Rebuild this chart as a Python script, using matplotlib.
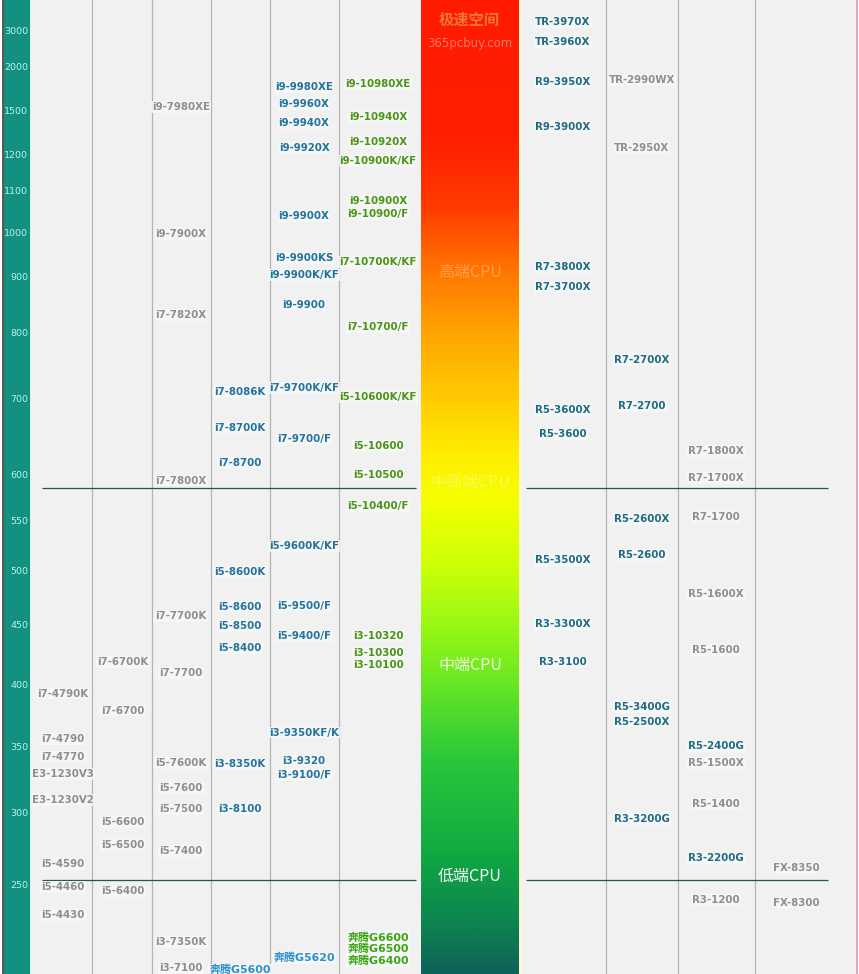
import numpy as np
import matplotlib.pyplot as plt
from matplotlib.colors import LinearSegmentedColormap
from matplotlib.patches import Rectangle

plt.rcParams['font.family'] = ['DejaVu Sans', 'Noto Sans CJK SC']

W, H = 859, 974

# score axis (left scale) and the rows where each tick sits on the sheet
tick_scores = [250, 300, 350, 400, 450, 500, 550, 600, 700, 800, 900, 1000, 1100, 1200, 1500, 2000, 3000]
tick_rows = [884, 812, 746, 685, 625, 571, 521, 474, 398, 332, 277, 232, 191, 154, 110, 67, 31]

# CPU columns: names and scores
haswell_names = ['i7-4790K', 'i7-4790', 'i7-4770', 'E3-1230V3', 'E3-1230V2', 'i5-4590', 'i5-4460', 'i5-4430']
haswell_scores = [393, 356, 342, 329, 309, 264, 248, 229]

skylake_names = ['i7-6700K', 'i7-6700', 'i5-6600', 'i5-6500', 'i5-6400']
skylake_scores = [419, 379, 293, 277, 245]

kaby_names = ['i9-7980XE', 'i9-7900X', 'i7-7820X', 'i7-7800X', 'i7-7700K', 'i7-7700',
              'i5-7600K', 'i5-7600', 'i5-7500', 'i5-7400', 'i3-7350K', 'i3-7100']
kaby_scores = [1535, 996, 831, 593, 458, 410, 337, 318, 302, 273, 211, 193]

coffee_names = ['i7-8086K', 'i7-8700K', 'i7-8700', 'i5-8600K', 'i5-8600', 'i5-8500', 'i5-8400',
                'i3-8350K', 'i3-8100', '奔腾G5600']
coffee_scores = [709, 661, 614, 499, 467, 449, 431, 336, 302, 192]

coffee9_names = ['i9-9980XE', 'i9-9960X', 'i9-9940X', 'i9-9920X', 'i9-9900X', 'i9-9900KS', 'i9-9900K/KF',
                 'i9-9900', 'i7-9700K/KF', 'i7-9700/F', 'i5-9600K/KF', 'i5-9500/F', 'i5-9400/F',
                 'i3-9350KF/K', 'i3-9320', 'i3-9100/F', '奔腾G5620']
coffee9_scores = [1767, 1570, 1411, 1241, 1039, 942, 905, 849, 715, 646, 525, 468, 441, 361, 339, 328, 200]

comet_names = ['i9-10980XE', 'i9-10940X', 'i9-10920X', 'i9-10900K/KF', 'i9-10900X', 'i9-10900/F',
               'i7-10700K/KF', 'i7-10700/F', 'i5-10600K/KF', 'i5-10600', 'i5-10500', 'i5-10400/F',
               'i3-10320', 'i3-10300', 'i3-10100', '奔腾G6600', '奔腾G6500', '奔腾G6400']
comet_scores = [1802, 1452, 1282, 1181, 1076, 1044, 933, 809, 702, 637, 599, 566, 441, 427, 417, 214, 206, 198]

zen2_names = ['TR-3970X', 'TR-3960X', 'R9-3950X', 'R9-3900X', 'R7-3800X', 'R7-3700X', 'R5-3600X',
              'R5-3600', 'R5-3500X', 'R3-3300X', 'R3-3100']
zen2_scores = [3243, 2703, 1826, 1384, 922, 882, 684, 653, 511, 451, 419]

zenplus_names = ['TR-2990WX', 'TR-2950X', 'R7-2700X', 'R7-2700', 'R5-2600X', 'R5-2600', 'R5-3400G',
                 'R5-2500X', 'R3-3200G']
zenplus_scores = [1849, 1241, 758, 689, 552, 516, 382, 370, 295]

zen1_names = ['R7-1800X', 'R7-1700X', 'R7-1700', 'R5-1600X', 'R5-1600', 'R5-2400G', 'R5-1500X',
              'R5-1400', 'R3-2200G', 'R3-1200']
zen1_scores = [630, 596, 554, 479, 429, 350, 337, 306, 268, 239]

fx_names = ['FX-8350', 'FX-8300']
fx_scores = [261, 237]

tier_names = ['高端CPU', '中高端CPU', '中端CPU', '低端CPU']
tier_scores = [911, 591, 416, 255]
tier_bounds = [585, 253]

# ---- styling ----
GRAY = '#8e8e8e'
INTEL_BLUE = '#23739c'
COMET_GREEN = '#4a9416'
AMD_BLUE = '#1f6b82'
color_override = {
    '奔腾G5600': '#2b8fd0', '奔腾G5620': '#2b8fd0',
    '奔腾G6600': '#3da312', '奔腾G6500': '#3da312', '奔腾G6400': '#3da312',
    'TR-2990WX': GRAY, 'TR-2950X': GRAY,
    'R5-2400G': AMD_BLUE, 'R3-2200G': AMD_BLUE,
}
columns = [
    (haswell_names, haswell_scores, 63, GRAY),
    (skylake_names, skylake_scores, 123, GRAY),
    (kaby_names, kaby_scores, 181, GRAY),
    (coffee_names, coffee_scores, 240, INTEL_BLUE),
    (coffee9_names, coffee9_scores, 304, INTEL_BLUE),
    (comet_names, comet_scores, 378, COMET_GREEN),
    (zen2_names, zen2_scores, 563, AMD_BLUE),
    (zenplus_names, zenplus_scores, 642, AMD_BLUE),
    (zen1_names, zen1_scores, 716, GRAY),
    (fx_names, fx_scores, 796, GRAY),
]

# piecewise score -> row mapping, extended a little past both ends
anchor_scores = np.array([150] + tick_scores + [4000], dtype=float)
anchor_rows = np.array([1032] + tick_rows + [-6], dtype=float)


def fwd(s):
    return H - np.interp(s, anchor_scores, anchor_rows)


def inv(v):
    return np.interp(H - np.asarray(v, dtype=float), anchor_rows[::-1], anchor_scores[::-1])


fig = plt.figure(figsize=(W / 100, H / 100), dpi=100)
fig.patch.set_facecolor('white')

# background sheet in pixel layout
bg = fig.add_axes([0, 0, 1, 1], zorder=0)
bg.set_xlim(0, W)
bg.set_ylim(H, 0)
bg.axis('off')
bg.add_patch(Rectangle((31, 0), 825, H, fc='#f1f1f1', ec='none'))
bg.add_patch(Rectangle((3.5, 0), 26, H, fc='#149080', ec='none'))
bg.add_patch(Rectangle((29.5, 0), 1.8, H, fc='#d5f3ee', ec='none'))
bg.axvline(3, color='#3a3a3a', lw=1.2)
bg.axvline(856.5, color='#e8a4b4', lw=1.4)
for xs in [92, 152, 211, 270, 339, 606, 678, 755]:
    bg.axvline(xs, color='#b4b4b4', lw=0.9)

grad = LinearSegmentedColormap.from_list('tier', [
    (0.00, '#ff1a00'), (0.14, '#ff2000'), (0.21, '#ff3a00'), (0.28, '#ff7800'),
    (0.34, '#ffa400'), (0.41, '#ffcc00'), (0.47, '#ffee00'), (0.51, '#f6ff00'),
    (0.58, '#cdff08'), (0.64, '#9cf814'), (0.70, '#6ae824'), (0.78, '#2cc83a'),
    (0.88, '#10a842'), (0.95, '#0d8450'), (1.00, '#0d6458')])
bg.imshow(np.linspace(0, 1, 400).reshape(-1, 1), cmap=grad, aspect='auto',
          extent=(421, 519, H, 0), zorder=2)
bg.add_patch(Rectangle((519, 0), 2.5, H, fc='#fbf6d8', ec='none', zorder=2))
bg.text(469, 20, '极速空间', ha='center', va='center', fontsize=11, fontweight='bold',
        color='#f08a3a', alpha=0.85, family=['Noto Sans CJK SC', 'DejaVu Sans'], zorder=3)
bg.text(470, 44, '365pcbuy.com', ha='center', va='center', fontsize=8.5,
        color='#ffc0b0', alpha=0.55, zorder=3)

# data axes on top
ax = fig.add_axes([0, 0, 1, 1], zorder=1)
ax.patch.set_alpha(0)
ax.set_xlim(0, W)
ax.set_yscale('function', functions=(fwd, inv))
ax.set_ylim(float(inv(0)), float(inv(H)))
for sp in ax.spines.values():
    sp.set_visible(False)
ax.set_xticks([])
ax.set_yticks(tick_scores)
ax.set_yticklabels([str(t) for t in tick_scores])
ax.tick_params(axis='y', length=0, pad=-20.2, labelsize=6.8, labelcolor='#b4f6e8')

ax.hlines(tier_bounds, 42, 416, color='#1d5a50', lw=0.9)
ax.hlines(tier_bounds, 526, 828, color='#1d5a50', lw=0.9)

for names, scores, xc, col in columns:
    for name, s in zip(names, scores):
        c = color_override.get(name, col)
        fs = 7.9 if name.startswith('奔腾') else 7.4
        ax.text(xc, s, name, ha='center', va='center', fontsize=fs, fontweight='bold', color=c,
                bbox=dict(boxstyle='square,pad=0.08', fc='#f7f8f8', ec='none', alpha=0.8))

tier_alpha = [0.3, 0.3, 0.85, 0.95]
for name, s, a in zip(tier_names, tier_scores, tier_alpha):
    ax.text(470, s, name, ha='center', va='center', fontsize=11.5, color='white', alpha=a,
            family=['Noto Sans CJK SC', 'DejaVu Sans'])

fig.savefig('out.png', dpi=100)
